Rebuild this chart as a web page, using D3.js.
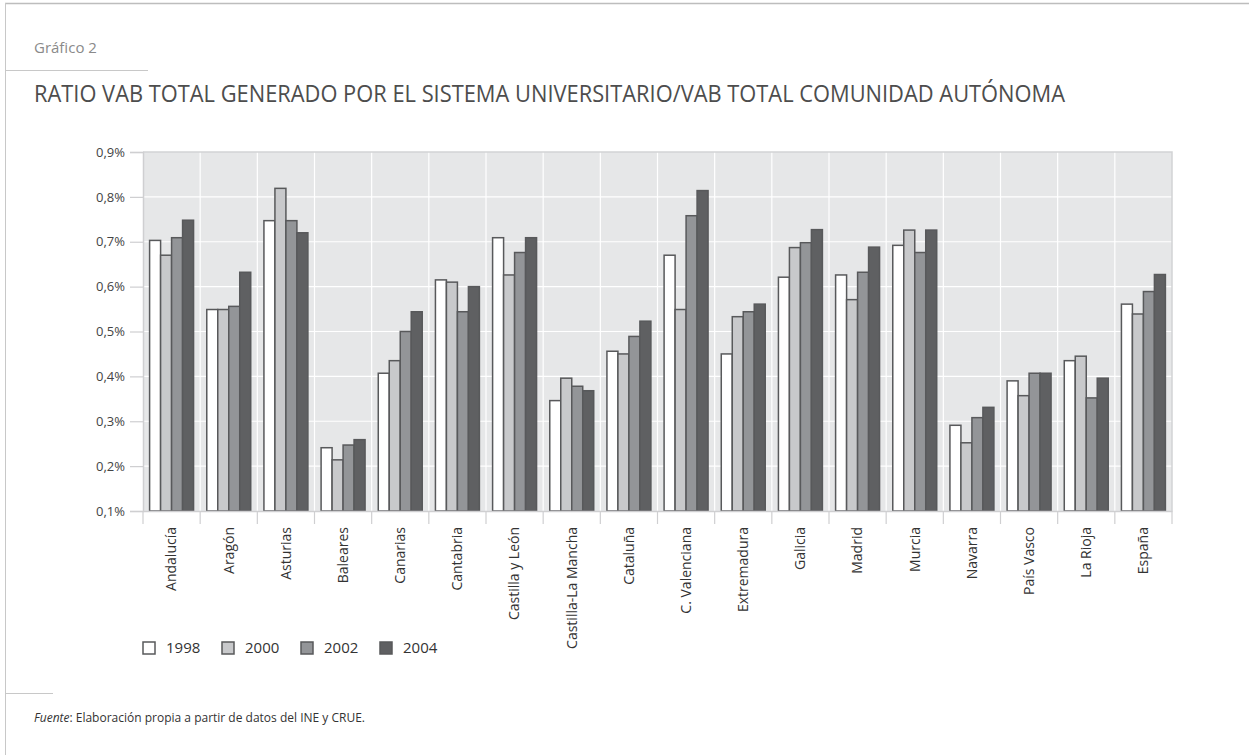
<!DOCTYPE html>
<meta charset="utf-8">
<style>
  body { margin: 0; background: #fff; }
  svg { display: block; font-family: "Open Sans", sans-serif; }
  .bar { stroke: #58595b; stroke-width: 1.5; }
  .tick text { fill: #444; }
</style>
<body>
<svg width="1249" height="755"></svg>
<script src="https://d3js.org/d3.v7.min.js"></script>
<script>
  var regiones = ["Andalucía", "Aragón", "Asturias", "Baleares", "Canarias", "Cantabria",
    "Castilla y León", "Castilla-La Mancha", "Cataluña", "C. Valenciana", "Extremadura",
    "Galicia", "Madrid", "Murcia", "Navarra", "País Vasco", "La Rioja", "España"];
  var anios = ["1998", "2000", "2002", "2004"];
  var colores = ["#ffffff", "#c8c9cb", "#939598", "#5f6062"];

  // ratio (%) por año, en el orden de regiones
  var v1998 = [0.703, 0.549, 0.747, 0.241, 0.407, 0.615, 0.709, 0.346, 0.456, 0.670, 0.450, 0.621, 0.626, 0.692, 0.291, 0.390, 0.435, 0.561];
  var v2000 = [0.670, 0.549, 0.819, 0.214, 0.435, 0.610, 0.626, 0.396, 0.450, 0.549, 0.533, 0.687, 0.571, 0.726, 0.252, 0.357, 0.445, 0.539];
  var v2002 = [0.709, 0.556, 0.747, 0.247, 0.500, 0.544, 0.676, 0.378, 0.489, 0.758, 0.544, 0.698, 0.632, 0.676, 0.308, 0.407, 0.352, 0.589];
  var v2004 = [0.748, 0.632, 0.720, 0.259, 0.544, 0.600, 0.709, 0.368, 0.523, 0.814, 0.561, 0.727, 0.688, 0.726, 0.331, 0.407, 0.396, 0.627];
  var yTicks = [0.1, 0.2, 0.3, 0.4, 0.5, 0.6, 0.7, 0.8, 0.9];

  var series = [v1998, v2000, v2002, v2004];

  var svg = d3.select("svg");

  // marco de la página
  svg.append("line").attr("x1", 5).attr("x2", 1249).attr("y1", 3.5).attr("y2", 3.5)
    .attr("stroke", "#bdbdbd").attr("stroke-width", 1.5);
  svg.append("line").attr("x1", 5.5).attr("x2", 5.5).attr("y1", 3).attr("y2", 755)
    .attr("stroke", "#c8c8c8").attr("stroke-width", 1);
  svg.append("line").attr("x1", 5).attr("x2", 148).attr("y1", 70.5).attr("y2", 70.5)
    .attr("stroke", "#c8c8c8").attr("stroke-width", 1);
  svg.append("line").attr("x1", 5).attr("x2", 53).attr("y1", 693.5).attr("y2", 693.5)
    .attr("stroke", "#c8c8c8").attr("stroke-width", 1);

  svg.append("text").attr("x", 34).attr("y", 53)
    .style("font-size", "15px").style("fill", "#8a8a8a").text("Gráfico 2");

  svg.append("text").attr("x", 34).attr("y", 102)
    .attr("textLength", 1031).attr("lengthAdjust", "spacingAndGlyphs")
    .style("font-size", "24px").style("fill", "#4d4d4d")
    .text("RATIO VAB TOTAL GENERADO POR EL SISTEMA UNIVERSITARIO/VAB TOTAL COMUNIDAD AUTÓNOMA");

  var mLeft = 143, mRight = 1172, mTop = 152, mBottom = 511;

  var x0 = d3.scaleBand().domain(regiones).range([mLeft, mRight]).padding(0);
  var x1 = d3.scaleBand().domain(anios).range([6.6, x0.bandwidth() - 6.6]).padding(0);
  var y = d3.scaleLinear().domain([0.1, 0.9]).range([mBottom, mTop]);

  // fondo
  svg.append("rect").attr("x", mLeft).attr("y", mTop)
    .attr("width", mRight - mLeft).attr("height", mBottom - mTop).attr("fill", "#e6e7e8");

  // rejilla
  svg.append("g").selectAll("line").data(yTicks.slice(1, -1)).enter().append("line")
    .attr("x1", mLeft).attr("x2", mRight)
    .attr("y1", function(d) { return y(d); }).attr("y2", function(d) { return y(d); })
    .attr("stroke", "#fff").attr("stroke-width", 1.2);
  svg.append("g").selectAll("line").data(regiones.slice(1)).enter().append("line")
    .attr("x1", function(d) { return x0(d); }).attr("x2", function(d) { return x0(d); })
    .attr("y1", mTop).attr("y2", mBottom)
    .attr("stroke", "#fff").attr("stroke-width", 1.2);

  // bordes superior y derecho
  svg.append("path")
    .attr("d", "M" + mLeft + "," + mTop + "H" + mRight + "V" + mBottom)
    .attr("fill", "none").attr("stroke", "#d2d3d5").attr("stroke-width", 1.5);

  // barras
  var grupos = svg.append("g").selectAll("g").data(regiones).enter().append("g")
    .attr("transform", function(d) { return "translate(" + x0(d) + ",0)"; });

  grupos.selectAll("rect")
    .data(function(d, i) {
      return anios.map(function(a, j) { return { anio: a, j: j, v: series[j][i] }; });
    })
    .enter().append("rect")
    .attr("class", "bar")
    .attr("x", function(d) { return x1(d.anio); })
    .attr("width", x1.bandwidth())
    .attr("y", function(d) { return y(d.v); })
    .attr("height", function(d) { return mBottom - y(d.v); })
    .attr("fill", function(d) { return colores[d.j]; });

  // eje y
  var yAxis = svg.append("g")
    .attr("transform", "translate(" + mLeft + ",0)")
    .call(d3.axisLeft(y).tickValues(yTicks).tickSize(13).tickPadding(5)
      .tickFormat(function(d) { return d3.format(".1f")(d).replace(".", ",") + "%"; }));
  yAxis.select(".domain").attr("stroke", "#cfcfd1").attr("stroke-width", 1.5);
  yAxis.selectAll(".tick line").attr("stroke", "#cfcfd1").attr("stroke-width", 1.2);
  yAxis.selectAll(".tick text").style("font-size", "13px").style("font-family", "Open Sans");

  // eje x
  var xAxis = svg.append("g")
    .attr("transform", "translate(0," + mBottom + ")")
    .call(d3.axisBottom(x0).tickSize(0).tickPadding(0));
  xAxis.select(".domain").attr("stroke", "#cfcfd1").attr("stroke-width", 1.5);
  xAxis.selectAll(".tick text")
    .attr("transform", "rotate(-90)")
    .attr("x", -16).attr("y", 0).attr("dy", "0.35em")
    .style("text-anchor", "end")
    .style("font-size", "14px").style("font-family", "Open Sans")
    .style("fill", "#333");

  var bordes = regiones.map(function(d) { return x0(d); }).concat([mRight]);
  svg.append("g").selectAll("line").data(bordes).enter().append("line")
    .attr("x1", function(d) { return d; }).attr("x2", function(d) { return d; })
    .attr("y1", mBottom).attr("y2", mBottom + 13)
    .attr("stroke", "#cfcfd1").attr("stroke-width", 1.2);

  // leyenda
  var legX = [143, 222, 301, 380];
  var leyenda = svg.append("g").selectAll("g").data(anios).enter().append("g")
    .attr("transform", function(d, i) { return "translate(" + legX[i] + ",642)"; });
  leyenda.append("rect").attr("width", 12).attr("height", 12)
    .attr("fill", function(d, i) { return colores[i]; })
    .attr("stroke", "#58595b").attr("stroke-width", 1.5);
  leyenda.append("text").attr("x", 23).attr("y", 6).attr("dy", "0.36em")
    .style("font-size", "15px").style("fill", "#333")
    .text(function(d) { return d; });

  // fuente
  var fuente = svg.append("text").attr("x", 34).attr("y", 722)
    .style("font-size", "12px").style("fill", "#333");
  fuente.append("tspan").style("font-style", "italic").text("Fuente");
  fuente.append("tspan").text(":  Elaboración propia a partir de datos del INE y CRUE.");
</script>
</body>
